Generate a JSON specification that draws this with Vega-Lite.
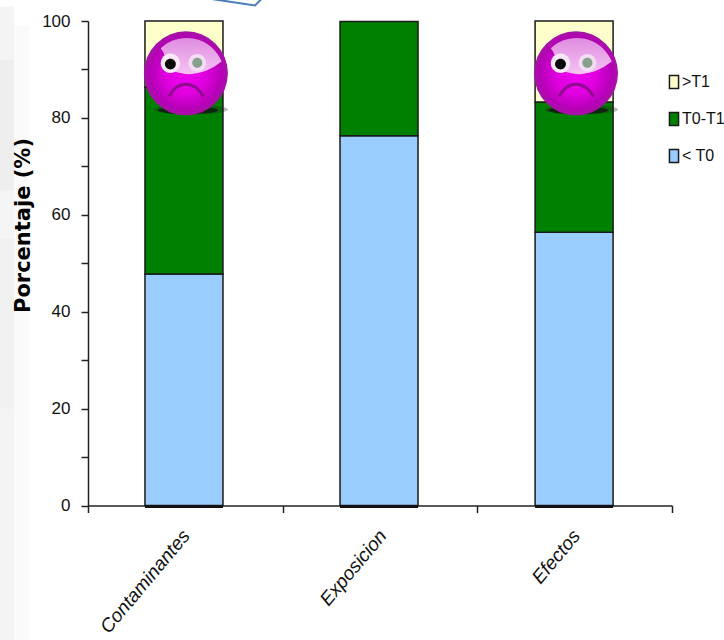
{
  "$schema": "https://vega.github.io/schema/vega-lite/v6.json",
  "width": 584,
  "height": 484.5,
  "autosize": "none",
  "padding": {"left": 88, "top": 21, "right": 52, "bottom": 134.5},
  "background": "white",
  "config": {"view": {"stroke": null}},
  "datasets": {
    "niveles": [
      {"categoria": "Contaminantes", "pos": 0.493, "nivel": "< T0", "inicio": 0, "pct": 47.8},
      {"categoria": "Contaminantes", "pos": 0.493, "nivel": "T0-T1", "inicio": 47.8, "pct": 86.4},
      {"categoria": "Contaminantes", "pos": 0.493, "nivel": ">T1", "inicio": 86.4, "pct": 100},
      {"categoria": "Exposicion", "pos": 1.495, "nivel": "< T0", "inicio": 0, "pct": 76.3},
      {"categoria": "Exposicion", "pos": 1.495, "nivel": "T0-T1", "inicio": 76.3, "pct": 99.9},
      {"categoria": "Efectos", "pos": 2.497, "nivel": "< T0", "inicio": 0, "pct": 56.4},
      {"categoria": "Efectos", "pos": 2.497, "nivel": "T0-T1", "inicio": 56.4, "pct": 83.3},
      {"categoria": "Efectos", "pos": 2.497, "nivel": ">T1", "inicio": 83.3, "pct": 100}
    ],
    "categorias": [
      {"categoria": "Contaminantes", "pos": 0.505, "pct": -5.6, "base": -0.5, "centro": 0.493},
      {"categoria": "Exposicion", "pos": 1.515, "pct": -5.6, "base": -0.5, "centro": 1.495},
      {"categoria": "Efectos", "pos": 2.51, "pct": -5.6, "base": -0.5, "centro": 2.497}
    ],
    "franjas": [
      {"pos": -0.452, "pos2": -0.38, "pct": 103, "pct2": 92, "tono": 0.045},
      {"pos": -0.452, "pos2": -0.38, "pct": 92, "pct2": 65, "tono": 0.065},
      {"pos": -0.452, "pos2": -0.38, "pct": 65, "pct2": 55, "tono": 0.04},
      {"pos": -0.452, "pos2": -0.38, "pct": 55, "pct2": 20, "tono": 0.06},
      {"pos": -0.452, "pos2": -0.38, "pct": 20, "pct2": -28, "tono": 0.045},
      {"pos": -0.38, "pos2": -0.298, "pct": 99, "pct2": -28, "tono": 0.018}
    ],
    "globo": [
      {"pos": 0.643, "pct": 104.5, "orden": 1},
      {"pos": 0.858, "pct": 103.2, "orden": 2},
      {"pos": 0.89, "pct": 104.5, "orden": 3}
    ],
    "caras": [
      {"pos": 0.503, "pct": 89.2},
      {"pos": 2.507, "pct": 89.2}
    ]
  },
  "encoding": {
    "x": {
      "field": "pos", "type": "quantitative",
      "scale": {"domain": [0, 3], "nice": false, "zero": false, "padding": 0},
      "axis": {"values": [0, 1, 2, 3], "labels": false, "title": null, "grid": false, "domainColor": "#222222", "domainWidth": 1.5, "tickColor": "#222222", "tickWidth": 1.5, "tickSize": 7}
    },
    "y": {
      "field": "pct",
      "type": "quantitative",
      "scale": {"domain": [0, 100], "nice": false},
      "axis": {
        "values": [0, 10, 20, 30, 40, 50, 60, 70, 80, 90, 100],
        "labelExpr": "datum.value % 20 === 0 ? datum.label : ''",
        "grid": false,
        "domainColor": "#222222",
        "domainWidth": 1.5,
        "tickColor": "#222222",
        "tickWidth": 1.5,
        "tickSize": 7,
        "labelPadding": 11,
        "labelFont": "Liberation Sans",
        "labelFontSize": 17,
        "labelColor": "#111111",
        "title": "Porcentaje (%)",
        "titleFont": "DejaVu Sans",
        "titleFontWeight": "bold",
        "titleFontSize": 21,
        "titleColor": "#000000",
        "titleX": -65,
        "titleY": 204,
        "titleAngle": 270,
        "titleAlign": "center",
        "titleBaseline": "middle"
      }
    }
  },
  "layer": [
    {
      "data": {"name": "franjas"},
      "mark": {"type": "rect", "fill": "black"},
      "encoding": {
        "x2": {"field": "pos2"},
        "y2": {"field": "pct2"},
        "opacity": {"field": "tono", "type": "quantitative", "scale": {"domain": [0, 1], "range": [0, 1]}, "legend": null}
      }
    },
    {
      "data": {"name": "globo"},
      "mark": {"type": "line", "stroke": "#4a7ebb", "strokeWidth": 2, "clip": false},
      "encoding": {"order": {"field": "orden", "type": "ordinal"}}
    },
    {
      "data": {"name": "niveles"},
      "mark": {"type": "bar", "orient": "vertical", "size": 78, "stroke": "#1a1a1a", "strokeWidth": 1.5},
      "encoding": {
        "y2": {"field": "inicio"},
        "color": {
          "field": "nivel", "type": "nominal",
          "scale": {"domain": [">T1", "T0-T1", "< T0"], "range": ["#ffffcc", "#008000", "#99ccff"]},
          "legend": {
            "title": null,
            "orient": "none",
            "legendX": 578,
            "legendY": 53,
            "symbolType": "M-0.7,-1H0.7V1H-0.7Z",
            "symbolSize": 169,
            "symbolStrokeColor": "#1a1a1a",
            "symbolStrokeWidth": 1.5,
            "labelFont": "Liberation Sans",
            "labelFontSize": 16,
            "labelColor": "#111111",
            "labelOffset": 0,
            "rowPadding": 17
          }
        }
      }
    },
    {
      "data": {"name": "categorias"},
      "mark": {"type": "bar", "orient": "vertical", "size": 78, "fill": "#111111"},
      "encoding": {
        "x": {"field": "centro", "type": "quantitative"},
        "y": {"field": "base", "type": "quantitative"},
        "y2": {"datum": 0}
      }
    },
    {
      "data": {"name": "categorias"},
      "mark": {"type": "text", "angle": 310, "align": "right", "baseline": "middle", "font": "Liberation Sans", "fontStyle": "italic", "fontSize": 19, "color": "#111111"},
      "encoding": {"text": {"field": "categoria", "type": "nominal"}}
    },
    {
      "data": {"name": "caras"},
      "mark": {"type": "point", "filled": true, "opacity": 0.3, "fill": "#222222", "size": 7056, "shape": "M-0.76,0.86a0.88,0.12 0 1 0 1.76,0a0.88,0.12 0 1 0 -1.76,0Z"}
    },
    {
      "data": {"name": "caras"},
      "mark": {"type": "point", "filled": true, "opacity": 0.75, "fill": "#111111", "size": 7056, "shape": "M-0.67,0.88a0.72,0.09 0 1 0 1.44,0a0.72,0.09 0 1 0 -1.44,0Z"}
    },
    {
      "data": {"name": "caras"},
      "mark": {
        "type": "point", "filled": true, "opacity": 1, "shape": "circle", "size": 7056,
        "fill": {
          "gradient": "radial", "x1": 0.5, "y1": 0.52, "r1": 0, "x2": 0.5, "y2": 0.5, "r2": 0.52,
          "stops": [
            {"offset": 0, "color": "#f000f0"},
            {"offset": 0.45, "color": "#e000e0"},
            {"offset": 0.8, "color": "#b800b8"},
            {"offset": 1, "color": "#a018a0"}
          ]
        }
      }
    },
    {
      "data": {"name": "caras"},
      "mark": {
        "type": "point", "filled": true, "opacity": 1, "size": 7056,
        "fill": {
          "gradient": "linear", "x1": 0.5, "y1": 0, "x2": 0.5, "y2": 1,
          "stops": [
            {"offset": 0, "color": "#df8cdf"},
            {"offset": 1, "color": "#f4c4f4"}
          ]
        },
        "shape": "M-0.6,-0.6A0.9,0.9 0 0 1 0.85,-0.28Q0.5,0 0.1,0.02Q-0.35,0 -0.5,-0.2Q-0.45,-0.42 -0.6,-0.6Z"
      }
    },
    {
      "data": {"name": "caras"},
      "mark": {"type": "point", "filled": true, "opacity": 1, "size": 7056, "fill": "#f8e8f8", "shape": "M-0.6,-0.24a0.23,0.23 0 1 0 0.46,0a0.23,0.23 0 1 0 -0.46,0Z"}
    },
    {
      "data": {"name": "caras"},
      "mark": {"type": "point", "filled": true, "opacity": 1, "size": 7056, "fill": "#0a0a0a", "shape": "M-0.5,-0.22a0.13,0.13 0 1 0 0.26,0a0.13,0.13 0 1 0 -0.26,0Z"}
    },
    {
      "data": {"name": "caras"},
      "mark": {"type": "point", "filled": true, "opacity": 1, "size": 7056, "fill": "#f4dcf4", "shape": "M0.06,-0.25a0.21,0.21 0 1 0 0.42,0a0.21,0.21 0 1 0 -0.42,0Z"}
    },
    {
      "data": {"name": "caras"},
      "mark": {"type": "point", "filled": true, "opacity": 1, "size": 7056, "fill": "#86a08c", "shape": "M0.15,-0.25a0.12,0.12 0 1 0 0.24,0a0.12,0.12 0 1 0 -0.24,0Z"}
    },
    {
      "data": {"name": "caras"},
      "mark": {"type": "point", "filled": false, "opacity": 1, "size": 7056, "stroke": "#8e0c8e", "strokeWidth": 3, "shape": "M-0.4,0.55Q-0.25,0.26 0,0.26Q0.25,0.26 0.42,0.55"}
    }
  ]
}
